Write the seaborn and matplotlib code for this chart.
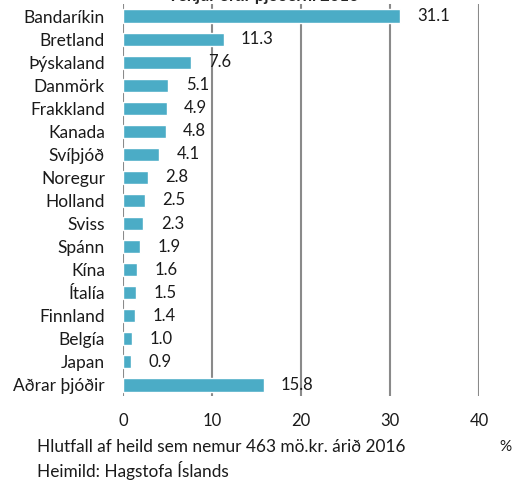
import matplotlib
matplotlib.use("Agg")
import matplotlib.pyplot as plt
import seaborn as sns
import pandas as pd

sns.set_theme(style="white")
plt.rcParams['font.family'] = ['Lato', 'DejaVu Sans']

# data
lond = ["Bandaríkin", "Bretland", "Þýskaland", "Danmörk", "Frakkland", "Kanada",
        "Svíþjóð", "Noregur", "Holland", "Sviss", "Spánn", "Kína", "Ítalía",
        "Finnland", "Belgía", "Japan", "Aðrar þjóðir"]
hlutfall = [31.1, 11.3, 7.6, 5.1, 4.9, 4.8, 4.1, 2.8, 2.5, 2.3, 1.9, 1.6, 1.5,
            1.4, 1.0, 0.9, 15.8]
xticks = [0, 10, 20, 30, 40]

df = pd.DataFrame({"land": lond, "hlutfall": hlutfall})

fig = plt.figure(figsize=(5.26, 4.83), dpi=100)
ax = fig.add_axes([0.2338, 0.1791, 0.6768, 0.8116])

sns.barplot(data=df, y="land", x="hlutfall", orient="h", color="#4BACC6",
            saturation=1, width=0.57, ax=ax, zorder=3)

for i, v in enumerate(hlutfall):
    ax.text(v + 1.95, i, f"{v:.1f}", va="center", ha="left", fontsize=12, color="#1a1a1a")

ax.set_xlim(0, 40)
ax.set_ylim(16.5, -0.5)
ax.set_xticks(xticks)
ax.xaxis.grid(True, color="#8a8a8a", linewidth=1.5, zorder=0)
ax.yaxis.grid(False)
for s in ax.spines.values():
    s.set_visible(False)
ax.set_xlabel("")
ax.set_ylabel("")
ax.tick_params(axis="y", length=0, pad=13, labelsize=12.5, labelcolor="#1a1a1a")
ax.tick_params(axis="x", length=0, pad=12, labelsize=12, labelcolor="#1a1a1a")

# title is cropped at the top edge in the reference
fig.text(0.5, 1 - 1 / 483, "Tekjur eftir þjóðerni 2016", ha="center", va="baseline",
         fontsize=12, fontweight="bold")
fig.text(37 / 526, 1 - 447 / 483, "Hlutfall af heild sem nemur 463 mö.kr. árið 2016",
         ha="left", va="center", fontsize=12.4, color="#1a1a1a")
fig.text(37 / 526, 1 - 470 / 483, "Heimild: Hagstofa Íslands",
         ha="left", va="center", fontsize=12.4, color="#1a1a1a")
fig.text(505 / 526, 1 - 447 / 483, "%", ha="center", va="center",
         fontsize=11, color="#1a1a1a")

fig.savefig("out.png", dpi=100)
